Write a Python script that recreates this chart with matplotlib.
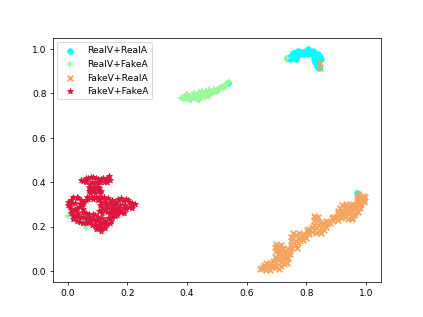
import matplotlib
matplotlib.use('Agg')
import matplotlib.pyplot as plt

real_real_x=[.734,.745,.756,.773,.790,.806,.823,.840,.849,.829,.843,.773,.754,.806,.838,.538,.970,
             .760,.765,.780,.790,.800,.815,.830,.815,.845,.835,.825,.835,.840,.745,.765]
real_real_y=[.958,.965,.980,.992,.988,.998,.992,.977,.953,.943,.913,.973,.958,.977,.935,.848,.350,
             .965,.985,.985,.975,.990,.985,.980,.975,.965,.955,.955,.925,.945,.955,.955]

real_fake_x=[.385,.395,.400,.410,.420,.430,.440,.450,.455,.465,.470,.480,.490,.500,.505,.515,.525,.535,.540,.430,.415,.460,.380,.475,.495,.734,.002,.061,
             .390,.405,.420,.435,.445,.460,.470,.485,.500,.510,.520,.530,.440,.450,.475,.390,
             .400,.425,.450,.475,.490,.440,.410,.440,.465,.505,.525]
real_fake_y=[.778,.785,.775,.790,.780,.790,.785,.800,.790,.800,.790,.805,.805,.815,.820,.830,.835,.845,.850,.775,.772,.785,.781,.798,.812,.958,.248,.192,
             .775,.785,.790,.780,.795,.800,.805,.800,.808,.825,.828,.840,.775,.785,.790,.790,
             .795,.800,.810,.815,.820,.805,.770,.770,.812,.812,.825]

fake_real_x=[.644,.658,.672,.683,.700,.717,.666,.683,.700,.717,.734,.706,.722,.739,.745,.728,.711,.698,.709,.722,.739,.698,
             .750,.756,.773,.756,.773,.790,.756,.776,.795,.801,.818,.834,.851,.818,.834,.851,.866,.834,.832,.840,.825,
             .857,.873,.890,.885,.901,.918,.935,.952,.913,.929,.946,.963,.913,.929,.946,.968,.980,.993,.974,.996,.977,.989,.985,.957,.845,.846,
             .650,.665,.680,.690,.710,.725,.675,.690,.710,.725,.695,.720,.735,.705,.730,.710,.695,.715,.700,
             .745,.750,.765,.765,.780,.765,.785,.750,.800,.810,.810,.825,.845,.860,.825,.840,.855,.870,.840,.825,.830,.845,
             .865,.880,.895,.905,.905,.920,.930,.940,.955,.960,.975,.920,.940,.955,.905,.960,.970,.985,.980,.985,.970,.995,.920,.935,.950,
             .750,.770,.790,.805,.890,.910,.930,.945,.970,.975,.660,.735]
fake_real_y=[.008,.017,.012,.017,.017,.023,.038,.035,.035,.042,.038,.057,.062,.057,.077,.080,.083,.102,.113,.102,.098,.122,
             .102,.125,.125,.147,.147,.140,.170,.170,.162,.185,.177,.170,.170,.200,.192,.192,.200,.215,.237,.245,.248,
             .218,.222,.227,.237,.245,.237,.242,.245,.260,.263,.267,.260,.282,.287,.290,.282,.297,.312,.320,.332,.342,.338,.320,.302,.935,.913,
             .012,.005,.005,.020,.010,.030,.030,.045,.050,.050,.065,.070,.070,.075,.090,.095,.110,.115,.090,
             .090,.115,.115,.135,.135,.160,.155,.135,.150,.165,.190,.185,.180,.185,.205,.205,.205,.210,.225,.225,.245,.215,
             .225,.215,.235,.230,.260,.250,.250,.235,.235,.250,.265,.270,.280,.275,.270,.290,.300,.300,.285,.330,.330,.320,.295,.300,.295,
             .155,.105,.165,.175,.245,.250,.270,.260,.315,.345,.025,.055]

fake_fake_x=[.052,.069,.085,.102,.119,.139,.141,.074,.091,.108,.074,.091,.106,.074,.091,.108,.069,.085,.102,
             .007,.018,.035,.052,.007,.024,.013,.024,.041,.018,.035,.052,
             .018,.035,.052,.069,.085,.052,.069,.085,.102,.108,.125,.108,.091,.125,.141,.158,
             .108,.125,.141,.113,.136,.153,.102,
             .164,.180,.197,.214,.225,.169,.192,.180,.197,.164,.203,
             .045,.060,.078,.095,.110,.128,.135,.060,.080,.100,.120,.130,.070,.085,.100,.070,.085,.100,.110,.065,.080,.095,.110,
             .000,.000,.012,.030,.045,.010,.025,.040,.050,.060,
             .010,.020,.030,.045,.060,.075,.090,.100,.115,.080,.095,.110,.100,.115,.130,.145,.120,
             .115,.130,.145,.160,.115,.130,.145,.110,.125,.140,.160,
             .170,.185,.205,.215,.175,.185,.205,.175,.190,.215,
             .105,.120,.135,.150,.160,.150,.165,.125,.105,.090,.070,.060,.150,.135,.165,.155,.030,.040,.060,.075,.110,.125,.090,.140,.030,.050]
fake_fake_y=[.407,.417,.422,.413,.417,.428,.410,.392,.398,.402,.368,.372,.372,.350,.350,.350,.323,.323,.323,
             .312,.332,.327,.312,.290,.305,.308,.278,.290,.252,.260,.267,
             .233,.242,.242,.252,.257,.215,.222,.233,.245,.215,.227,.192,.207,.207,.237,.248,
             .297,.305,.312,.275,.282,.290,.320,
             .312,.327,.323,.305,.302,.282,.297,.267,.278,.260,.320,
             .410,.420,.425,.420,.415,.415,.420,.400,.400,.400,.400,.400,.380,.380,.380,.360,.360,.360,.360,.335,.335,.335,.335,
             .310,.295,.320,.335,.320,.280,.270,.300,.300,.320,
             .260,.245,.250,.245,.235,.240,.225,.230,.240,.205,.190,.180,.200,.195,.210,.225,.220,
             .290,.295,.300,.295,.260,.265,.265,.310,.320,.260,.270,
             .325,.315,.310,.300,.295,.285,.290,.270,.260,.285,
             .330,.335,.330,.320,.310,.280,.280,.280,.270,.250,.255,.260,.245,.240,.250,.265,.225,.220,.215,.220,.210,.195,.205,.215,.285,.280]

plt.figure(figsize=(6.4,4.8),dpi=66.1)
plt.scatter(real_real_x,real_real_y,c='cyan',marker='o',label='RealV+RealA')
plt.scatter(real_fake_x,real_fake_y,c='palegreen',marker='+',linewidths=2,label='RealV+FakeA')
plt.scatter(fake_real_x,fake_real_y,c='sandybrown',marker='x',linewidths=2,label='FakeV+RealA')
plt.scatter(fake_fake_x,fake_fake_y,c='crimson',marker='*',s=42,label='FakeV+FakeA')
plt.xlim(-.05,1.05)
plt.ylim(-.05,1.05)
plt.legend(loc='upper left')
plt.savefig('out.png')
